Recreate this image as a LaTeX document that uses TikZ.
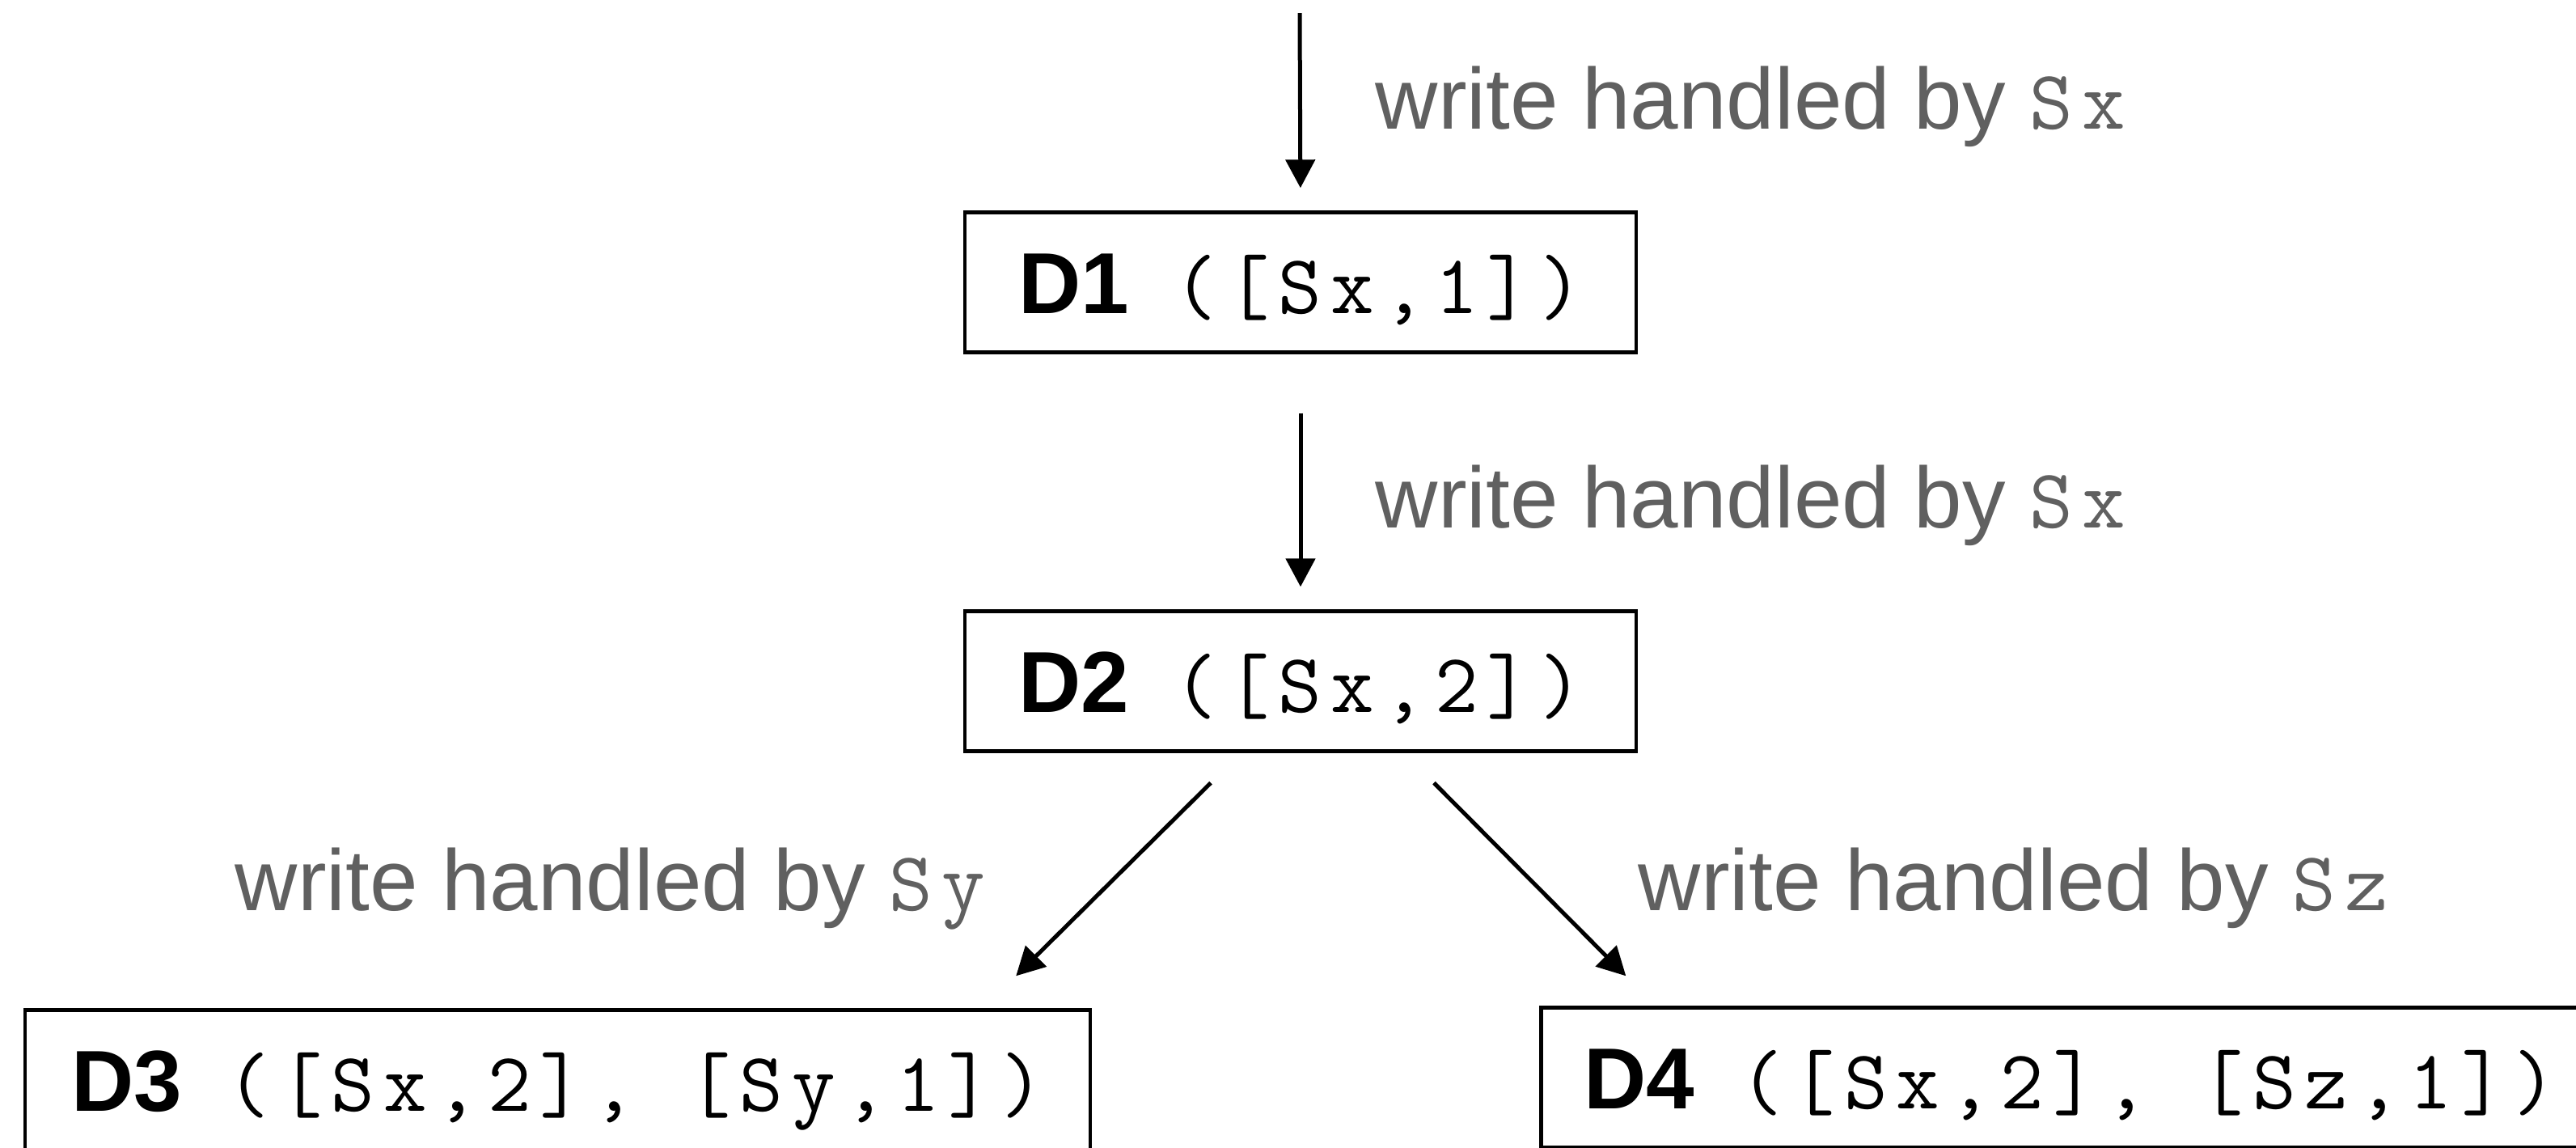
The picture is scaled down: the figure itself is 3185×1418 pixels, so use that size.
\documentclass[tikz,border=0pt]{standalone}
\usepackage{fontspec}
\setsansfont{Liberation Sans}
\setmonofont[LetterSpace=10.5]{Latin Modern Mono}
\usetikzlibrary{arrows.meta,calc}
\definecolor{lblgray}{RGB}{96,96,96}
\newcommand{\mtxt}[1]{{\ttfamily\fontsize{26pt}{31pt}\selectfont #1}}
\begin{document}
\begin{tikzpicture}[x=0.25pt,y=-0.25pt,
  every node/.style={font=\sffamily\fontsize{26.75pt}{32pt}\selectfont},
  box/.style={draw,line width=1.1pt,inner sep=0pt,text height=19pt,text depth=0pt,minimum height=43.25pt},
  lbl/.style={text=lblgray,inner sep=0pt,anchor=base west},
  arr/.style={line width=1.25pt,-{Triangle[length=8.75pt,width=9pt]}}]
\useasboundingbox (0,0) rectangle (3185,1418);
\node[box,minimum width=207.5pt] (D1) at (1608,349) {\textbf{D1}\hspace{14pt}\mtxt{([Sx,1])}};
\node[box,minimum width=207.5pt] (D2) at (1608,842) {\textbf{D2}\hspace{14pt}\mtxt{([Sx,2])}};
\node[box,minimum width=329.25pt] (D3) at (689.5,1335) {\textbf{D3}\hspace{14pt}\mtxt{([Sx,2], [Sy,1])}};
\node[box,minimum width=327.25pt] (D4) at (2560,1332) {\textbf{D4}\hspace{14pt}\mtxt{([Sx,2], [Sz,1])}};
\node[lbl] (L1) at (1700,159) {write handled by \mtxt{Sx}};
\node[lbl] (L2) at (1700,652) {write handled by \mtxt{Sx}};
\node[lbl] (L3) at (290,1125) {write handled by \mtxt{Sy}};
\node[lbl] (L4) at (2025,1125) {write handled by \mtxt{Sz}};
\coordinate (top) at (1607,16);
\draw[arr,shorten >=7pt] (top) -- (D1.north);
\draw[arr,shorten <=18.25pt,shorten >=7pt] (D1.south) -- (D2.north);
\draw[arr] ($(D2.south)+(-111,37)$) -- ($(D3.north east)+(-94,-40)$);
\draw[arr] ($(D2.south)+(165,37)$) -- ($(D4.north west)+(107,-37)$);
\end{tikzpicture}
\end{document}
